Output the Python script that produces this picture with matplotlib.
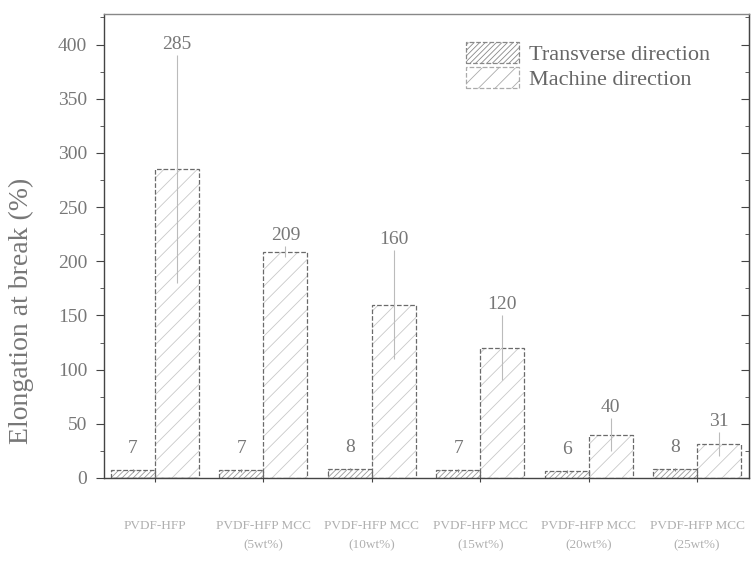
import numpy as np
import matplotlib.pyplot as plt

plt.rcParams['font.family'] = ['Liberation Serif', 'DejaVu Serif']
plt.rcParams['hatch.linewidth'] = 0.6

# data
samples = ['PVDF-HFP', 'PVDF-HFP MCC\n(5wt%)', 'PVDF-HFP MCC\n(10wt%)',
           'PVDF-HFP MCC\n(15wt%)', 'PVDF-HFP MCC\n(20wt%)', 'PVDF-HFP MCC\n(25wt%)']
transverse = [7, 7, 8, 7, 6, 8]
transverse_err = [1.5, 1.5, 1, 1.5, 1.5, 1.5]
machine = [285, 209, 160, 120, 40, 31]
machine_err = [105, 5, 50, 30, 15, 11]

fig = plt.figure(figsize=(7.51, 5.69), dpi=100)
ax = fig.add_axes([0.1385, 0.16, 0.859, 0.815])

x = np.arange(len(samples))
w = 0.405
edge = '#6a6a6a'

# hatch layer (light) and dashed outline layer on top
ax.bar(x - w / 2, transverse, w, color='white', edgecolor='#9a9a9a',
       hatch='//////', linewidth=0)
ax.bar(x + w / 2, machine, w, color='white', edgecolor='#c8c8c8',
       hatch='//', linewidth=0)
ax.bar(x - w / 2, transverse, w, yerr=transverse_err, fill=False, edgecolor=edge,
       linestyle='--', linewidth=0.9, ecolor='#888888', error_kw=dict(elinewidth=0.8))
ax.bar(x + w / 2, machine, w, yerr=machine_err, fill=False, edgecolor=edge,
       linestyle='--', linewidth=0.9, ecolor='#bbbbbb', error_kw=dict(elinewidth=0.8))

# legend proxies
h1 = ax.bar([0], [0], color='white', edgecolor='#888888', hatch='//////',
            linestyle='--', linewidth=0.9, label='Transverse direction')
h2 = ax.bar([0], [0], color='white', edgecolor='#aaaaaa', hatch='//',
            linestyle='--', linewidth=0.9, label='Machine direction')

# value labels above the error bars
for i in range(len(samples)):
    ax.text(x[i] - w / 2, transverse[i] + transverse_err[i] + 11, str(transverse[i]),
            ha='center', va='bottom', fontsize=14, color='#777777')
    ax.text(x[i] + w / 2, machine[i] + machine_err[i] + 2, str(machine[i]),
            ha='center', va='bottom', fontsize=14, color='#777777')

ax.set_xlim(-0.47, 5.48)
ax.set_ylim(0, 428)
ax.set_yticks(np.arange(0, 401, 50))
ax.set_yticks(np.arange(25, 426, 50), minor=True)
ax.set_xticks(x)
ax.set_xticklabels(samples, fontsize=9.5, color='#b0b0b0', linespacing=1.9)
ax.tick_params(axis='y', labelsize=14, labelcolor='#777777', color='#444444',
               direction='out', length=6, pad=6)
ax.tick_params(axis='y', which='minor', direction='out', length=3, color='#444444')
ax.tick_params(axis='x', direction='out', length=3, color='#444444', pad=27)

# right axis with inward ticks
rax = ax.secondary_yaxis('right')
rax.set_yticks(np.arange(0, 401, 50))
rax.set_yticks(np.arange(25, 426, 50), minor=True)
rax.tick_params(which='major', direction='in', length=6, color='#444444', labelright=False)
rax.tick_params(which='minor', direction='in', length=3, color='#444444')
rax.spines['right'].set_color('#444444')

for s in ax.spines.values():
    s.set_color('#444444')
    s.set_linewidth(1)
ax.spines['top'].set_color('#888888')

ax.set_ylabel('Elongation at break (%)', fontsize=20, color='#777777')
ax.yaxis.set_label_coords(-0.108, 0.36)

leg = ax.legend(handles=[h1, h2], loc='upper left', bbox_to_anchor=(0.561, 0.94),
                frameon=False, fontsize=16, handlelength=2.4, handleheight=1.05,
                labelspacing=0.1, borderpad=0, borderaxespad=0, handletextpad=0.45)
for t in leg.get_texts():
    t.set_color('#666666')

fig.savefig('out.png', dpi=100)
